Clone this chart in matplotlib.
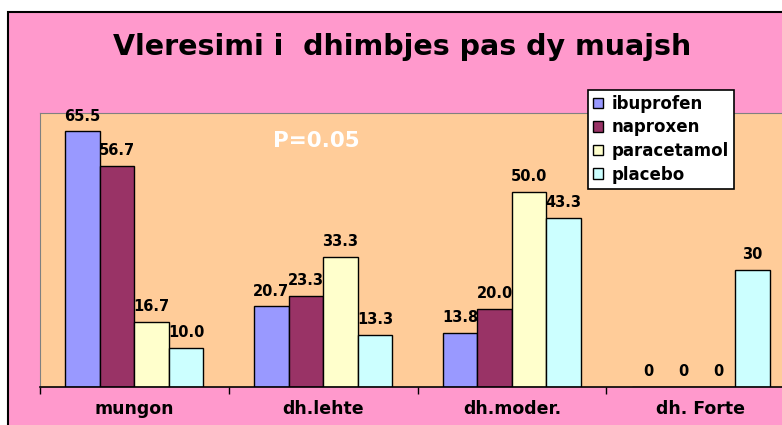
import numpy as np
import matplotlib.pyplot as plt
from matplotlib.patches import Rectangle

categories = ['mungon', 'dh.lehte', 'dh.moder.', 'dh. Forte']
series = ['ibuprofen', 'naproxen', 'paracetamol', 'placebo']
ibuprofen = [65.5, 20.7, 13.8, 0]
naproxen = [56.7, 23.3, 20.0, 0]
paracetamol = [16.7, 33.3, 50.0, 0]
placebo = [10.0, 13.3, 43.3, 30]
values = [ibuprofen, naproxen, paracetamol, placebo]
# the last group is labelled without decimals in the original
decimals = [1, 1, 1, 0]

colors = ['#9999FF', '#993366', '#FFFFCC', '#CCFFFF']
pink = '#FF99CC'
peach = '#FFCC99'

W, H = 782, 425
fig = plt.figure(figsize=(W/100, H/100), dpi=100, facecolor='white')
plt.rcParams['font.family'] = ['DejaVu Sans']

# chart area (pink, cut off at right and bottom)
fig.patches.append(Rectangle((8/W, -0.1), 1.2, 1 - 12/H + 0.1, transform=fig.transFigure,
                             facecolor=pink, edgecolor='black', lw=1.5, zorder=-10))

ax = fig.add_axes([40/W, 38/H, 755/W, 274/H])
ax.set_zorder(1)
ax.set_facecolor(peach)
x = np.arange(len(categories))
bw = 0.183
for i, (name, vals) in enumerate(zip(series, values)):
    pos = x + (i - 1.5)*bw
    ax.bar(pos, vals, bw, color=colors[i], edgecolor='black', lw=1, label=name, zorder=2)
    for p, v, d in zip(pos, vals, decimals):
        ax.annotate(f'{v:.{d}f}', (p, v), xytext=(0, 5.5), textcoords='offset points',
                    ha='center', va='bottom', fontsize=10.5, fontweight='bold', zorder=3)

ax.set_xlim(-0.5, 3.5)
ax.set_ylim(0, 70.2)
ax.set_yticks([])
ax.set_xticks(x)
ax.set_xticklabels(categories, fontsize=12.5, fontweight='bold')
ax.tick_params(axis='x', which='major', length=0, pad=9)
ax.set_xticks(np.arange(-0.5, 4, 1), minor=True)
ax.tick_params(axis='x', which='minor', length=5, width=1, direction='out')
for s in ['top', 'left']:
    ax.spines[s].set_color('#808080')
ax.spines['right'].set_visible(False)
ax.spines['bottom'].set_color('black')
ax.spines['bottom'].set_linewidth(1.2)

fig.text(316/W, 1 - 141/H, 'P=0.05', color='white', zorder=5,
         fontsize=15.5, fontweight='bold', ha='center', va='center')

fig.text(402/W, 1 - 47/H, 'Vleresimi i  dhimbjes pas dy muajsh', ha='center', va='center',
         fontsize=20.5, fontweight='bold')

leg = fig.legend(loc='upper left', bbox_to_anchor=(588/W, 1 - 90/H),
                 prop={'weight': 'bold', 'size': 12}, frameon=True, fancybox=False,
                 edgecolor='black', framealpha=1, handlelength=0.6, handleheight=0.6,
                 handletextpad=0.5, labelspacing=0.33, borderpad=0.3, borderaxespad=0)
leg.set_zorder(6)
leg.get_frame().set_linewidth(1.2)

fig.savefig('out.png', dpi=100, facecolor='white')
